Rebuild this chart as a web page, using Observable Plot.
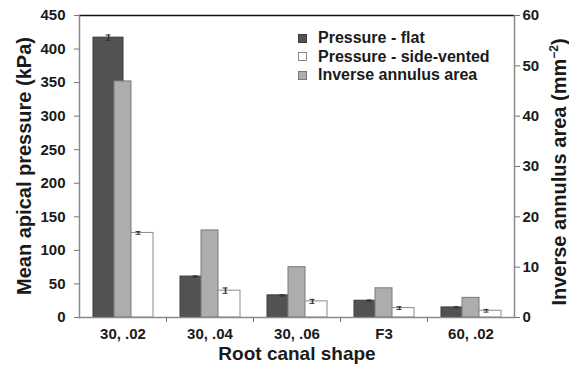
<!DOCTYPE html>
<html><head><meta charset="utf-8">
<script src="https://cdn.jsdelivr.net/npm/d3@7"></script>
<script src="https://cdn.jsdelivr.net/npm/@observablehq/plot@0.6"></script>
<style>
body{margin:0;background:#fff;}
#wrap{position:relative;width:569px;height:371px;font-family:"Liberation Sans",Arial,sans-serif;font-weight:bold;color:#1a1a1a;}
.t{position:absolute;white-space:nowrap;line-height:1;}
.leg{position:absolute;left:298px;top:29px;font-size:16px;line-height:18.5px;}
.leg div{display:flex;align-items:center;}
.leg span.sw{display:inline-block;width:7px;height:7px;margin-right:11px;box-sizing:content-box;}
</style></head><body><div id="wrap"></div>
<script>
const categories = ["30, .02", "30, .04", "30, .06", "F3", "60, .02"];
const pressureFlat = [417, 61, 33, 25, 15];
const pressureFlatErr = [4, 1, 1, 1, 1];
const pressureSide = [126, 40, 24, 14, 10];
const pressureSideErr = [2, 4, 3, 2, 2];
const inverseArea = [46.9, 17.3, 10.0, 5.8, 3.9];
const leftTicks = [0, 50, 100, 150, 200, 250, 300, 350, 400, 450];
const rightTicks = [0, 10, 20, 30, 40, 50, 60];
const seriesNames = ["Pressure - flat", "Pressure - side-vented", "Inverse annulus area"];

const k = 450 / 60;
const pressure = categories.flatMap((c, i) => [
  {cat: c, series: "flat", value: pressureFlat[i], err: pressureFlatErr[i]},
  {cat: c, series: "side", value: pressureSide[i], err: pressureSideErr[i]}
]);
const area = categories.map((c, i) => ({cat: c, value: inverseArea[i]}));

const W = 569, H = 371, ML = 79, MR = 55, MT = 15, MB = 54;
const halfStep = (W - ML - MR) / categories.length / 2;

const chart = Plot.plot({
  width: W, height: H,
  marginLeft: ML, marginRight: MR, marginTop: MT, marginBottom: MB,
  style: {fontFamily: '"Liberation Sans", Arial, sans-serif', fontSize: "15px", fontWeight: "bold", color: "#1a1a1a", background: "#fff"},
  fx: {domain: categories, padding: 0},
  x: {domain: ["flat", "side"], paddingInner: 0, paddingOuter: 0.45, axis: null},
  y: {domain: [0, 450]},
  marks: [
    Plot.barY(pressure, {fx: "cat", x: "series", y: "value",
      fill: d => d.series === "flat" ? "#525252" : "#ffffff",
      stroke: d => d.series === "flat" ? "#3c3c3c" : "#8a8a8a", strokeWidth: 1}),
    Plot.barY(area, {fx: "cat", y: d => d.value * k, fill: "#adadad", stroke: "#7a7a7a", strokeWidth: 1, insetLeft: 35, insetRight: 35}),
    Plot.ruleX(pressure, {fx: "cat", x: "series", y1: d => d.value - d.err, y2: d => d.value + d.err, stroke: "#333", strokeWidth: 1.5}),
    Plot.tickY(pressure, {fx: "cat", x: "series", y: d => d.value + d.err, stroke: "#333", insetLeft: 12.5, insetRight: 12.5}),
    Plot.tickY(pressure, {fx: "cat", x: "series", y: d => d.value - d.err, stroke: "#333", insetLeft: 12.5, insetRight: 12.5}),
    Plot.ruleY([0], {stroke: "#8a8a8a", strokeWidth: 1.5}),
    Plot.ruleY([450], {stroke: "#111", strokeWidth: 1.5}),
    Plot.frame({anchor: "left", facetAnchor: "left", stroke: "#8a8a8a", strokeWidth: 1.5}),
    Plot.frame({anchor: "right", facetAnchor: "right", stroke: "#8a8a8a", strokeWidth: 1.5}),
    Plot.axisY({anchor: "left", ticks: leftTicks, tickSize: 5, tickPadding: 9, label: null, stroke: "#777", fill: "#1a1a1a"}),
    Plot.axisY({anchor: "right", ticks: rightTicks.map(v => v * k), tickFormat: d => d / k, tickSize: 5, tickPadding: 3, label: null, stroke: "#777", fill: "#1a1a1a"}),
    Plot.axisFx({anchor: "bottom", tickSize: 0, tickPadding: 11, label: null, fill: "#1a1a1a"}),
    Plot.axisFx({anchor: "bottom", ticks: categories.slice(1), tickSize: 5, tickFormat: () => "", label: null, stroke: "#777", dx: -halfStep})
  ]
});

const wrap = document.getElementById("wrap");
wrap.appendChild(chart);

function addText(txt, x, y, size, rot) {
  const d = document.createElement("div");
  d.className = "t";
  d.innerHTML = txt;
  d.style.left = x + "px";
  d.style.top = y + "px";
  d.style.fontSize = size + "px";
  d.style.transform = "translate(-50%,-50%)" + (rot ? " rotate(-90deg)" : "");
  wrap.appendChild(d);
}
addText("Mean apical pressure (kPa)", 24, 166, 20, true);
addText("Inverse annulus area (mm<sup style='font-size:12px;line-height:0;vertical-align:8px'>−2</sup>)", 558.5, 172, 20, true);
addText("Root canal shape", 297, 352.5, 19, false);

const leg = document.createElement("div");
leg.className = "leg";
const swatch = [
  {fill: "#525252", stroke: "#3c3c3c"},
  {fill: "#ffffff", stroke: "#8a8a8a"},
  {fill: "#adadad", stroke: "#7a7a7a"}
];
seriesNames.forEach((n, i) => {
  const row = document.createElement("div");
  const s = document.createElement("span");
  s.className = "sw";
  s.style.background = swatch[i].fill;
  s.style.border = "1px solid " + swatch[i].stroke;
  row.appendChild(s);
  row.appendChild(document.createTextNode(n));
  leg.appendChild(row);
});
wrap.appendChild(leg);
chart.style.position = "absolute";
chart.style.left = "0";
chart.style.top = "0";
</script></body></html>
